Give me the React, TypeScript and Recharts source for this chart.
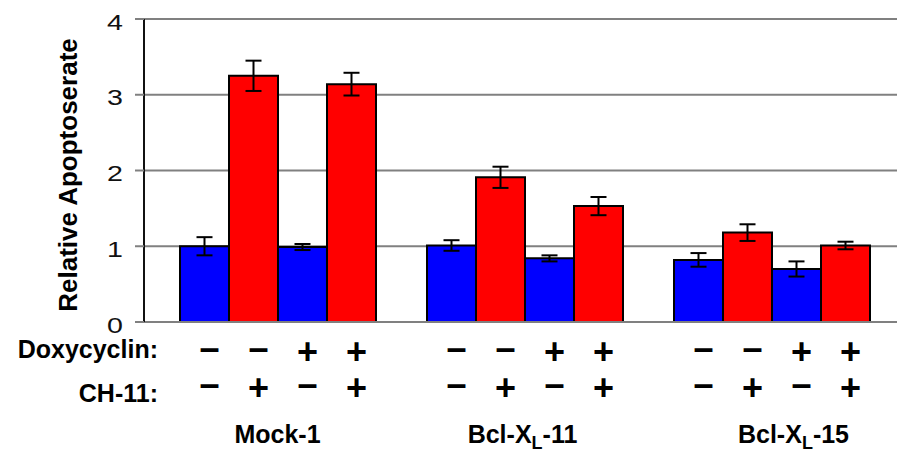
import React from 'react';
import { BarChart, Bar, XAxis, YAxis, CartesianGrid, ErrorBar, LabelList } from 'recharts';

const categories = ['Mock-1', 'Bcl-X_L-11', 'Bcl-X_L-15'];
const doxNegChNeg = [1.0, 1.01, 0.82];
const doxNegChNegErr = [0.12, 0.07, 0.09];
const doxNegChPos = [3.25, 1.91, 1.18];
const doxNegChPosErr = [0.2, 0.14, 0.11];
const doxPosChNeg = [0.99, 0.84, 0.7];
const doxPosChNegErr = [0.04, 0.04, 0.1];
const doxPosChPos = [3.14, 1.53, 1.01];
const doxPosChPosErr = [0.15, 0.12, 0.05];
const yTicks = [0, 1, 2, 3, 4];
const doxycyclinSigns = ['–', '–', '+', '+'];
const ch11Signs = ['–', '+', '–', '+'];
const seriesColors = ['#0000FF', '#FF0000', '#0000FF', '#FF0000'];

const seriesValues = [doxNegChNeg, doxNegChPos, doxPosChNeg, doxPosChPos];
const seriesErrors = [doxNegChNegErr, doxNegChPosErr, doxPosChNegErr, doxPosChPosErr];

const data = categories.map((name, i) => {
  const row: any = { name };
  seriesValues.forEach((vals, s) => {
    row['v' + s] = vals[i];
    row['e' + s] = seriesErrors[s][i];
  });
  return row;
});

const FONT = '"Liberation Sans", Arial, Helvetica, sans-serif';

const YTick = (props: any) => {
  const { y, payload } = props;
  return (
    <text
      x={0}
      y={0}
      transform={`translate(123, ${y + 10.5}) scale(1.3, 1)`}
      textAnchor="end"
      fontSize={22}
      fontFamily={FONT}
      fill="#111"
    >
      {payload.value}
    </text>
  );
};

const groupDx = [0, -2, 22];

const GroupTick = (props: any) => {
  const { x, payload, index } = props;
  const value: string = payload.value;
  const parts = value.split('_');
  const dx = groupDx[index] || 0;
  if (parts.length === 1) {
    return (
      <text x={x + dx} y={443} textAnchor="middle" fontSize={25} fontWeight="bold" fontFamily={FONT} fill="#000">
        {value}
      </text>
    );
  }
  const sub = parts[1].charAt(0);
  const rest = parts[1].slice(1);
  return (
    <text x={x + dx} y={443} textAnchor="middle" fontSize={25} fontWeight="bold" fontFamily={FONT} fill="#000">
      <tspan>{parts[0]}</tspan>
      <tspan fontSize={18} dy={6}>{sub}</tspan>
      <tspan dy={-6}>{rest}</tspan>
    </text>
  );
};

const signText = (cx: number, sign: string, plusBaseline: number, key: string) => {
  const isPlus = sign === '+';
  return (
    <text
      key={key}
      x={cx}
      y={isPlus ? plusBaseline : plusBaseline - 4}
      textAnchor="middle"
      fontSize={36}
      fontWeight="bold"
      fontFamily={FONT}
      fill="#000"
    >
      {sign}
    </text>
  );
};

const makeSignLabel = (s: number) => (props: any) => {
  const { x, width } = props;
  const cx = Number(x) + Number(width) / 2 + 5;
  return (
    <g>
      {signText(cx, doxycyclinSigns[s], 363.5, 'd')}
      {signText(cx, ch11Signs[s], 399.5, 'c')}
    </g>
  );
};

export default function App() {
  return (
    <div style={{ position: 'absolute', left: 0, top: 0, width: 897, height: 451, background: '#fff' }}>
      <BarChart
        width={897}
        height={451}
        data={data}
        margin={{ top: 19, right: 0, bottom: 0, left: 0 }}
        barCategoryGap={26}
        barGap={0}
      >
        <CartesianGrid vertical={false} stroke="#808080" strokeWidth={2} />
        <XAxis
          dataKey="name"
          height={129}
          interval={0}
          padding={{ left: 10, right: 2 }}
          axisLine={{ stroke: '#808080', strokeWidth: 2 }}
          tickLine={false}
          tick={<GroupTick />}
        />
        <YAxis
          width={144}
          domain={[0, 4]}
          ticks={yTicks}
          interval={0}
          tickSize={9}
          axisLine={{ stroke: '#111', strokeWidth: 2 }}
          tickLine={{ stroke: '#808080', strokeWidth: 2 }}
          tick={<YTick />}
        />
        {seriesValues.map((_, s) => (
          <Bar
            key={s}
            dataKey={'v' + s}
            fill={seriesColors[s]}
            stroke="#000"
            strokeWidth={2}
            isAnimationActive={false}
          >
            <ErrorBar dataKey={'e' + s} width={8} stroke="#000" strokeWidth={2} direction="y" />
            <LabelList dataKey={'v' + s} content={makeSignLabel(s)} />
          </Bar>
        ))}
      </BarChart>
      <svg
        width={897}
        height={451}
        style={{ position: 'absolute', left: 0, top: 0, pointerEvents: 'none' }}
      >
        <text
          x={77}
          y={175}
          transform="rotate(-90, 77, 175)"
          textAnchor="middle"
          fontSize={26}
          fontWeight="bold"
          fontFamily={FONT}
          fill="#000"
        >
          Relative Apoptoserate
        </text>
        <text x={158} y={358} textAnchor="end" fontSize={25} fontWeight="bold" fontFamily={FONT} fill="#000">
          Doxycyclin:
        </text>
        <text x={158} y={402} textAnchor="end" fontSize={25} fontWeight="bold" fontFamily={FONT} fill="#000">
          CH-11:
        </text>
      </svg>
    </div>
  );
}
